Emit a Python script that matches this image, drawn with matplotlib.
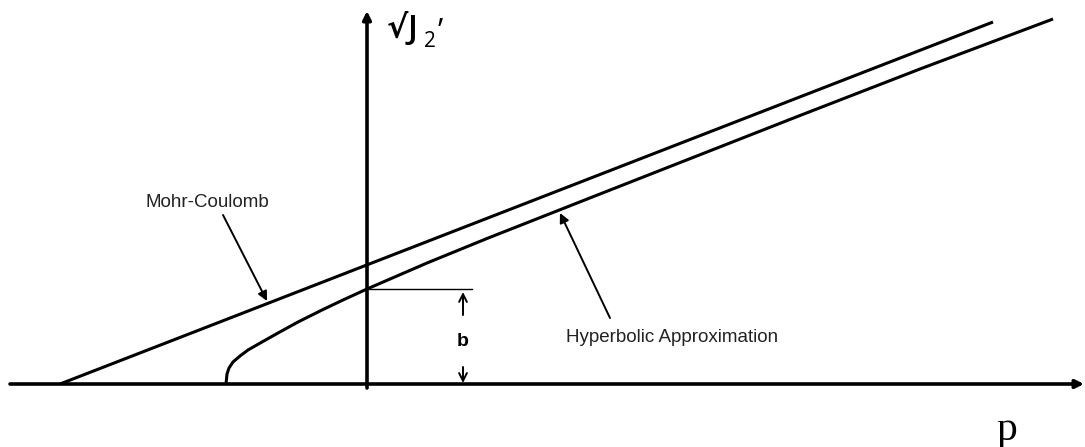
import matplotlib.pyplot as plt
import numpy as np

# data units: origin at the axes crossing, 1 unit ~ 100 px of the sketch
mc_p = [-3.07, 6.26]
mc_q = [0.00, 3.62]

hyp_p = [-1.41, -1.40, -1.38, -1.34, -1.27, -1.19, -1.05, -0.89, -0.69,
         -0.45, -0.24, 0.00, 0.60, 1.20, 2.33, 3.40, 4.33, 5.53, 6.86]
hyp_q = [0.00, 0.10, 0.16, 0.22, 0.28, 0.34, 0.42, 0.51, 0.62,
         0.74, 0.84, 0.95, 1.21, 1.455, 1.90, 2.32, 2.685, 3.15, 3.65]

b_value = 0.95
b_mark_p = 0.96

labels = ['Mohr-Coulomb', 'Hyperbolic Approximation']
label_pos = [(-1.60, 1.81), (1.99, 0.46)]
arrow_tail = [(-1.44, 1.69), (2.43, 0.66)]
arrow_tip = [(-1.00, 0.83), (1.93, 1.71)]


def driver():
    fig = plt.figure(figsize=(10.85, 4.47), dpi=100)
    ax = fig.add_axes([0, 0, 1, 1])
    ax.set_xlim(-3.67, 7.18)
    ax.set_ylim(-0.63, 3.84)
    ax.axis('off')

    # axes with arrow heads
    ax.annotate('', xy=(7.17, 0), xytext=(-3.57, 0),
                arrowprops=dict(arrowstyle='-|>', lw=2.6, color='black',
                                mutation_scale=12, shrinkA=0, shrinkB=0))
    ax.annotate('', xy=(0, 3.73), xytext=(0, -0.04),
                arrowprops=dict(arrowstyle='-|>', lw=2.6, color='black',
                                mutation_scale=12, shrinkA=0, shrinkB=0))

    ax.plot(mc_p, mc_q, color='black', lw=2.2, solid_capstyle='butt')
    ax.plot(hyp_p, hyp_q, color='black', lw=2.2, solid_capstyle='butt',
            solid_joinstyle='round')

    # b dimension
    ax.plot([0, 1.05], [b_value, b_value], color='black', lw=1.0)
    ax.annotate('', xy=(b_mark_p, b_value - 0.03), xytext=(b_mark_p, 0.69),
                arrowprops=dict(arrowstyle='->', lw=1.4, color='black',
                                mutation_scale=14, shrinkA=0, shrinkB=0))
    ax.annotate('', xy=(b_mark_p, 0.01), xytext=(b_mark_p, 0.17),
                arrowprops=dict(arrowstyle='->', lw=1.4, color='black',
                                mutation_scale=14, shrinkA=0, shrinkB=0))
    ax.text(b_mark_p, 0.43, 'b', ha='center', va='center', fontsize=14,
            fontweight='bold', family='Liberation Sans')

    for lab, pos, tail, tip in zip(labels, label_pos, arrow_tail, arrow_tip):
        ha = 'center' if lab == 'Mohr-Coulomb' else 'left'
        ax.text(pos[0], pos[1], lab, ha=ha, va='center', fontsize=13.5,
                family='Liberation Sans', color='#222222')
        ax.annotate('', xy=tip, xytext=tail,
                    arrowprops=dict(arrowstyle='-|>', lw=1.4, color='black',
                                    mutation_scale=14, shrinkA=0, shrinkB=0))

    # axis labels
    fam = ['Open Sans', 'DejaVu Sans']
    ax.text(0.20, 3.55, '\u221a', ha='left', va='center', fontsize=23,
            fontweight='bold', family=['DejaVu Sans'])
    ax.text(0.41, 3.54, 'J', ha='left', va='center', fontsize=24,
            fontweight='semibold', family=fam)
    ax.text(0.57, 3.42, '2', ha='left', va='center', fontsize=15, family=fam)
    ax.text(0.71, 3.67, '\u2019', ha='left', va='top', fontsize=22,
            family=fam)
    ax.text(6.40, -0.56, 'p', ha='center', va='baseline', fontsize=30,
            family='Liberation Serif')

    fig.savefig('out.png', dpi=100)


if __name__ == '__main__':
    driver()
